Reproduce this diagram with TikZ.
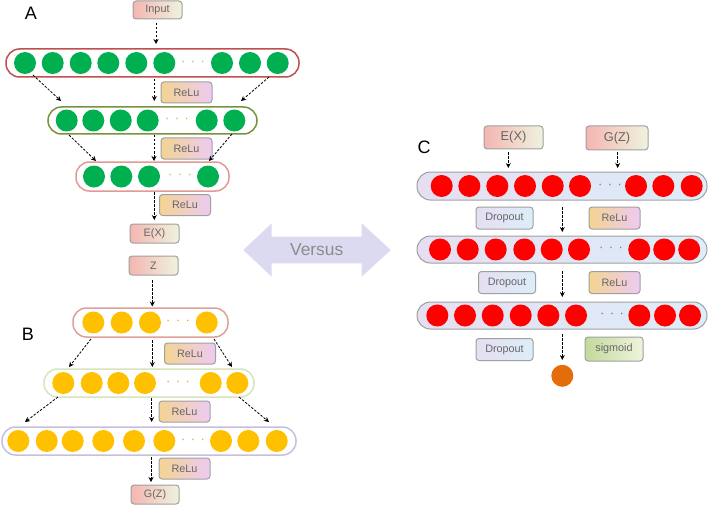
\documentclass[tikz,border=0pt]{standalone}
\usepackage{fontspec}
\setmainfont{Liberation Sans}
\usetikzlibrary{arrows.meta}

\definecolor{txtgray}{HTML}{666666}
\definecolor{boxgray}{HTML}{A0A0A0}
\definecolor{pinkL}{HTML}{F4B6B1}
\definecolor{creamR}{HTML}{EEF3DE}
\definecolor{reluL}{HTML}{F3D492}
\definecolor{reluR}{HTML}{EDCAF2}
\definecolor{dropL}{HTML}{E6DEF1}
\definecolor{dropR}{HTML}{DCEEF8}
\definecolor{sigL}{HTML}{C3D99B}
\definecolor{sigR}{HTML}{EEF4DD}
\definecolor{nodegreen}{HTML}{00B050}
\definecolor{nodeyellow}{HTML}{FFC000}
\definecolor{nodered}{HTML}{FF0000}
\definecolor{nodeorange}{HTML}{E46C0A}
\definecolor{dotsA}{HTML}{92D050}
\definecolor{dotsB}{HTML}{E0A030}
\definecolor{dotsC}{HTML}{4F81BD}
\definecolor{lineA}{HTML}{C0504D}
\definecolor{lineAA}{HTML}{77933C}
\definecolor{lineAAA}{HTML}{E39A93}
\definecolor{lineB}{HTML}{DFA09A}
\definecolor{lineBB}{HTML}{D7E4BD}
\definecolor{lineBBB}{HTML}{C9BFDD}
\definecolor{versusfill}{HTML}{DCDAF0}

\tikzset{
  flow/.style={dash pattern=on 2.5pt off 1.5pt, line width=0.8pt, -{Stealth[length=5pt,width=5pt]}},
  tagbox/.style={draw=boxgray, line width=1pt, rounded corners=3pt, text=txtgray,
    font=\fontsize{10.8}{12}\selectfont, inner sep=0pt},
  inbox/.style={tagbox, left color=pinkL, right color=creamR},
  relubox/.style={tagbox, left color=reluL, right color=reluR, minimum width=51pt, minimum height=21pt},
  dropbox/.style={tagbox, left color=dropL, right color=dropR, minimum width=57pt, minimum height=22pt},
  sigbox/.style={tagbox, left color=sigL, right color=sigR},
  layer/.style={line width=1.5pt, rounded corners=13.5pt, fill=white},
  clayer/.style={draw=boxgray, line width=1pt, rounded corners=13.5pt, left color=dropL, right color=dropR,
    minimum width=290pt},
  unit/.style={circle, minimum size=22pt, inner sep=0pt},
  gunit/.style={unit, fill=nodegreen},
  yunit/.style={unit, fill=nodeyellow},
  runit/.style={unit, fill=nodered},
  etc/.style={font=\fontsize{13}{13}\selectfont, inner sep=0pt},
  panel/.style={font=\fontsize{18}{20}\selectfont}
}

\begin{document}
\begin{tikzpicture}[x=1pt,y=-1pt]
\useasboundingbox (0,0) rectangle (708,505);

% A
\node (lblA) at (31,13) [panel] {A};
\node (input) at (157.5,10) [inbox, minimum width=49pt, minimum height=18pt] {Input};
\node (a1) at (152.5,63) [layer, draw=lineA, minimum width=293pt, minimum height=28pt] {};
\foreach \x [count=\i] in {25,52.7,80.7,108.3,136.3,164.3,222,250,277.7}
  \node (a1c\i) at (\x,63) [gunit] {};
\node (a1d) at (193,63) [etc, text=dotsA] {·\hspace{5.4pt}·\hspace{5.4pt}·};
\node (a2) at (152.5,120.5) [layer, draw=lineAA, minimum width=209pt, minimum height=27pt] {};
\foreach \x [count=\i] in {66.7,93.3,120.7,147.7,206.7,234.3}
  \node (a2c\i) at (\x,120.5) [gunit] {};
\node (a2d) at (177,120.5) [etc, text=dotsA] {·\hspace{5.4pt}·\hspace{5.4pt}·};
\node (a3) at (152.5,176.5) [layer, draw=lineAAA, minimum width=153pt, minimum height=29pt] {};
\foreach \x [count=\i] in {94,121.3,149,208}
  \node (a3c\i) at (\x,176.5) [gunit] {};
\node (a3d) at (180,176.5) [etc, text=dotsA] {·\hspace{5.4pt}·\hspace{5.4pt}·};
\node (reluA1) at (186.5,92.5) [relubox] {ReLu};
\node (reluA2) at (186.5,148.5) [relubox] {ReLu};
\node (reluA3) at (185,205) [relubox] {ReLu};
\node (ex) at (154.5,233.5) [inbox, minimum width=49pt, minimum height=19pt] {E(X)};
\node (z) at (153.5,265.5) [inbox, minimum width=49pt, minimum height=19pt] {Z};

% B
\node (lblB) at (28,334) [panel] {B};
\node (b1) at (150.5,322.5) [layer, draw=lineB, minimum width=155pt, minimum height=29pt] {};
\foreach \x [count=\i] in {93.3,121.7,150,206.7}
  \node (b1c\i) at (\x,322.5) [yunit] {};
\node (b1d) at (178,322.5) [etc, text=dotsB] {·\hspace{5.4pt}·\hspace{5.4pt}·};
\node (b2) at (149,383) [layer, draw=lineBB, minimum width=210pt, minimum height=28pt] {};
\foreach \x [count=\i] in {63.3,91.7,118.3,145,210.7,237.3}
  \node (b2c\i) at (\x,383) [yunit] {};
\node (b2d) at (178,383) [etc, text=dotsB] {·\hspace{5.4pt}·\hspace{5.4pt}·};
\node (b3) at (149,441) [layer, draw=lineBBB, minimum width=294pt, minimum height=28pt] {};
\foreach \x [count=\i] in {18.3,46.7,72.7,103.3,134,164.3,221,248.3,276.7}
  \node (b3c\i) at (\x,441) [yunit] {};
\node (b3d) at (193,441) [etc, text=dotsB] {·\hspace{5.4pt}·\hspace{5.4pt}·};
\node (reluB1) at (190,353.5) [relubox] {ReLu};
\node (reluB2) at (184.5,411.5) [relubox] {ReLu};
\node (reluB3) at (184.5,468.5) [relubox] {ReLu};
\node (gz) at (155,494.5) [inbox, minimum width=48pt, minimum height=19pt] {G(Z)};

% versus
\fill[versusfill] (243.3,250) -- (271.7,223.3) -- (271.7,236.7) -- (361.7,236.7) -- (361.7,223.3)
  -- (390.7,250) -- (361.7,276.7) -- (361.7,263.3) -- (271.7,263.3) -- (271.7,276.7) -- cycle;
\node (versus) at (316.7,250) [text=black!45, font=\fontsize{17.4}{18}\selectfont] {Versus};

% C
\node (lblC) at (424,147) [panel] {C};
\node (cex) at (513.5,137.5) [inbox, minimum width=59pt, minimum height=23pt, font=\fontsize{12.8}{14}\selectfont] {E(X)};
\node (cgz) at (617,138) [inbox, minimum width=62pt, minimum height=24pt, font=\fontsize{12.8}{14}\selectfont] {G(Z)};
\node (c1) at (562,186) [clayer, minimum height=28pt] {};
\foreach \x [count=\i] in {441.7,469.3,497.3,525,552.7,580,636,663.3,691.7}
  \node (c1c\i) at (\x,186) [runit] {};
\node (c1d) at (610,186) [etc, text=dotsC] {·\hspace{5.4pt}·\hspace{5.4pt}·};
\node (c2) at (562,249.5) [clayer, minimum height=27pt] {};
\foreach \x [count=\i] in {440,467.7,495.7,524.3,551.7,579,639.2,664.2,689.2}
  \node (c2c\i) at (\x,249.5) [runit] {};
\node (c2d) at (611,249.5) [etc, text=dotsC] {·\hspace{5.4pt}·\hspace{5.4pt}·};
\node (c3) at (562,315.5) [clayer, minimum height=27pt] {};
\foreach \x [count=\i] in {437.3,465,492.7,520.7,548.3,576,639.3,665,690}
  \node (c3c\i) at (\x,315.5) [runit] {};
\node (c3d) at (612,315.5) [etc, text=dotsC] {·\hspace{5.4pt}·\hspace{5.4pt}·};
\node (drop1) at (504.5,218) [dropbox] {Dropout};
\node (reluC1) at (614.5,218) [relubox, minimum height=22pt] {ReLu};
\node (drop2) at (507,282.5) [dropbox] {Dropout};
\node (reluC2) at (614.5,282.5) [relubox, minimum height=22pt] {ReLu};
\node (drop3) at (504.5,349.5) [dropbox] {Dropout};
\node (sig) at (614,349) [sigbox, minimum width=58pt, minimum height=24pt] {sigmoid};
\node (out) at (562.3,375.8) [unit, fill=nodeorange] {};

% arrow ends
\coordinate (p1) at (156,23);      \coordinate (q1) at (156,44);
\coordinate (p2) at (33,75);       \coordinate (q2) at (61,101);
\coordinate (p3) at (154.3,79);    \coordinate (q3) at (154.3,101);
\coordinate (p4) at (269,77);      \coordinate (q4) at (241,101);
\coordinate (p5) at (69,135);      \coordinate (q5) at (96,161);
\coordinate (p6) at (154,135);     \coordinate (q6) at (154,161);
\coordinate (p7) at (232,134);     \coordinate (q7) at (209,161);
\coordinate (p8) at (154.3,192);   \coordinate (q8) at (154.3,220);
\coordinate (p9) at (152.3,280);   \coordinate (q9) at (152.3,306.5);
\coordinate (p10) at (91,339);     \coordinate (q10) at (69,367);
\coordinate (p11) at (152.3,340);  \coordinate (q11) at (152.3,367);
\coordinate (p12) at (214,339);    \coordinate (q12) at (232,367);
\coordinate (p13) at (58,397);     \coordinate (q13) at (25,422);
\coordinate (p14) at (151.7,398);  \coordinate (q14) at (151.7,422);
\coordinate (p15) at (239,397);    \coordinate (q15) at (269,422);
\coordinate (p16) at (151,457);    \coordinate (q16) at (151,482);
\coordinate (p17) at (508.3,152);  \coordinate (q17) at (508.3,168);
\coordinate (p18) at (617.7,152);  \coordinate (q18) at (617.7,168);
\coordinate (p19) at (562.3,207);  \coordinate (q19) at (562.3,232);
\coordinate (p20) at (562.3,271);  \coordinate (q20) at (562.3,297);
\coordinate (p21) at (562.3,334);  \coordinate (q21) at (562.3,360);
\foreach \k in {1,...,21}
  \draw[flow] (p\k) -- (q\k);
\end{tikzpicture}
\end{document}
